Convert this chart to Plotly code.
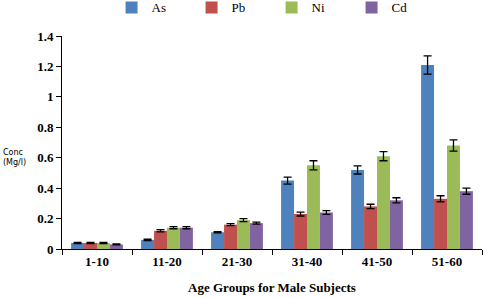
import plotly.graph_objects as go

categories = ["1-10", "11-20", "21-30", "31-40", "41-50", "51-60"]
series_names = ["As", "Pb", "Ni", "Cd"]
as_vals = [0.04, 0.06, 0.11, 0.45, 0.52, 1.21]
pb_vals = [0.04, 0.12, 0.16, 0.23, 0.28, 0.33]
ni_vals = [0.04, 0.14, 0.19, 0.55, 0.61, 0.68]
cd_vals = [0.03, 0.14, 0.17, 0.24, 0.32, 0.38]
as_err = [0.004, 0.004, 0.004, 0.023, 0.027, 0.06]
pb_err = [0.004, 0.007, 0.007, 0.013, 0.014, 0.02]
ni_err = [0.004, 0.007, 0.01, 0.03, 0.03, 0.037]
cd_err = [0.003, 0.007, 0.007, 0.012, 0.017, 0.02]
y_ticks = [0, 0.2, 0.4, 0.6, 0.8, 1, 1.2, 1.4]
y_tick_labels = ["0", "0.2", "0.4", "0.6", "0.8", "1", "1.2", "1.4"]

colors = ["#4F81BD", "#C0504D", "#9BBB59", "#8064A2"]
values = [as_vals, pb_vals, ni_vals, cd_vals]
errors = [as_err, pb_err, ni_err, cd_err]

fig = go.Figure()
for name, vals, errs, col in zip(series_names, values, errors, colors):
    fig.add_trace(go.Bar(
        x=categories, y=vals, name=name, marker_color=col,
        marker_line_width=0,
        error_y=dict(type="data", array=errs, visible=True, color="black",
                     thickness=1.3, width=4),
    ))

serif = "Liberation Serif"
fig.update_layout(
    width=484, height=298,
    margin=dict(l=62, r=2, t=36, b=49, autoexpand=False),
    plot_bgcolor="white", paper_bgcolor="white",
    barmode="group", bargap=0.26, bargroupgap=0,
    showlegend=True,
    legend=dict(orientation="h", x=0.118, xanchor="left", xref="paper",
                y=0.975, yanchor="middle", yref="container",
                font=dict(family=serif, size=13, color="black"),
                entrywidth=35, entrywidthmode="pixels",
                itemwidth=30, traceorder="normal", bgcolor="rgba(0,0,0,0)"),
    xaxis=dict(showline=True, linecolor="black", linewidth=1,
               ticks="outside", ticklen=5, tickcolor="black",
               tickson="boundaries",
               tickfont=dict(family=serif, size=13, color="black", weight="bold"),
               title=dict(text="Age Groups for Male Subjects",
                          font=dict(family=serif, size=13, color="black", weight="bold"),
                          standoff=15)),
    yaxis=dict(range=[0, 1.4], tickvals=y_ticks, ticktext=y_tick_labels,
               showline=True, linecolor="black", linewidth=1,
               ticks="outside", ticklen=5, tickcolor="black",
               showgrid=False, zeroline=False,
               tickfont=dict(family=serif, size=13, color="black", weight="bold")),
    annotations=[dict(text="Conc<br>(Mg/l)", x=0, xref="paper", xshift=-61,
                      xanchor="left", y=0.43, yref="paper", showarrow=False,
                      align="left",
                      font=dict(family="DejaVu Sans", size=8,
                                color="black"))],
)

fig.write_html("out.html", config={"displayModeBar": False},
               post_script="document.body.style.margin='0';document.body.style.padding='0';")
